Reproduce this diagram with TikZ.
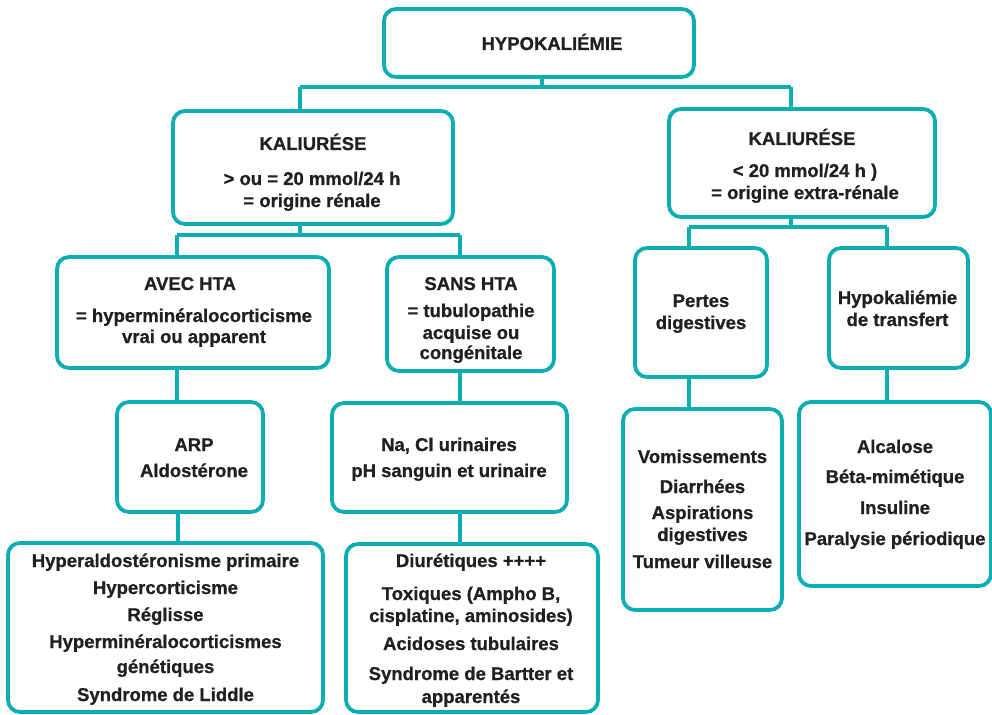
\documentclass[tikz,border=0pt]{standalone}
\usepackage{fontspec}
\setmainfont{Liberation Sans}[BoldFeatures={FakeBold=0.8}]
\begin{document}
\definecolor{teal1}{HTML}{0DAEB3}
\definecolor{ink}{HTML}{231F20}
\begin{tikzpicture}[x=1pt,y=-1pt,
  box/.style={draw=teal1, line width=3.8pt, rounded corners=12pt, fill=white,
    rectangle, inner sep=0pt, outer sep=0pt},
  link/.style={draw=teal1, line width=3.6pt},
  txt/.style={anchor=base, inner sep=0pt, text=ink,
    font=\fontsize{18.5}{22}\selectfont\bfseries}]
\useasboundingbox (0,0) rectangle (992,714);

% boxes
\node[box, minimum width=310pt, minimum height=68pt]  (hypo)   at (539,43)    {};
\node[box, minimum width=280pt, minimum height=113pt] (kr)     at (313,167.5) {};
\node[box, minimum width=266pt, minimum height=108pt] (kx)     at (802,163)   {};
\node[box, minimum width=272pt, minimum height=111pt] (avec)   at (193,312.5) {};
\node[box, minimum width=167pt, minimum height=114pt] (sans)   at (470.5,314) {};
\node[box, minimum width=132pt, minimum height=129pt] (pertes) at (701,312.5) {};
\node[box, minimum width=139pt, minimum height=120pt] (transf) at (898.5,308) {};
\node[box, minimum width=146pt, minimum height=110pt] (arp)    at (190,457)   {};
\node[box, minimum width=235pt, minimum height=109pt] (nacl)   at (449.5,457.5) {};
\node[box, minimum width=315pt, minimum height=169pt] (hald)   at (165.5,627.5) {};
\node[box, minimum width=252pt, minimum height=168pt] (diur)   at (472,628)   {};
\node[box, minimum width=159pt, minimum height=201pt] (vomi)   at (702.5,509.5) {};
\node[box, minimum width=192pt, minimum height=184pt] (alca)   at (895,494)   {};

% branching points of the tree
\coordinate (b0)  at (542,87);
\coordinate (b0l) at (300,87);
\coordinate (b0r) at (791,87);
\coordinate (b1)  at (300,235);
\coordinate (b1l) at (177,235);
\coordinate (b1r) at (460,235);
\coordinate (b2)  at (791,227);
\coordinate (b2l) at (689,227);
\coordinate (b2r) at (887,227);

% connectors
\draw[link] (hypo.south -| b0) -- (b0);
\draw[link] (b0l) -- (b0r);
\draw[link] (b0l) -- (b0l |- kr.north);
\draw[link] (b0r) -- (b0r |- kx.north);
\draw[link] (kr.south -| b1) -- (b1);
\draw[link] (b1l) -- (b1r);
\draw[link] (b1l) -- (b1l |- avec.north);
\draw[link] (b1r) -- (b1r |- sans.north);
\draw[link] (kx.south -| b2) -- (b2);
\draw[link] (b2l) -- (b2r);
\draw[link] (b2l) -- (b2l |- pertes.north);
\draw[link] (b2r) -- (b2r |- transf.north);
\draw[link] (avec.south -| b1l) -- (arp.north -| b1l);
\draw[link] ([xshift=-12pt]arp.south) -- ([xshift=-12pt]hald.north -| arp.south);
\draw[link] (sans.south -| b1r) -- (nacl.north -| b1r);
\draw[link] (nacl.south -| b1r) -- (diur.north -| b1r);
\draw[link] (pertes.south -| b2l) -- (vomi.north -| b2l);
\draw[link] (transf.south -| b2r) -- (alca.north -| b2r);

% texts
\node[txt] (t0)  at (552,50)  {HYPOKALIÉMIE};

\node[txt] (t1a) at (313,150) {KALIURÉSE};
\node[txt] (t1b) at (312,185) {> ou = 20 mmol/24 h};
\node[txt] (t1c) at (312,207) {= origine rénale};

\node[txt] (t2a) at (802,145) {KALIURÉSE};
\node[txt] (t2b) at (805,177) {< 20 mmol/24 h )};
\node[txt] (t2c) at (805,199) {= origine extra-rénale};

\node[txt] (t3a) at (190,290) {AVEC HTA};
\node[txt] (t3b) at (194,322) {= hyperminéralocorticisme};
\node[txt] (t3c) at (194,343) {vrai ou apparent};

\node[txt] (t4a) at (471,290) {SANS HTA};
\node[txt] (t4b) at (471,317) {= tubulopathie};
\node[txt] (t4c) at (471,339) {acquise ou};
\node[txt] (t4d) at (471,359) {congénitale};

\node[txt] (t5a) at (701,307) {Pertes};
\node[txt] (t5b) at (701,329) {digestives};

\node[txt] (t6a) at (897.5,304) {Hypokaliémie};
\node[txt] (t6b) at (897.5,326) {de transfert};

\node[txt] (t7a) at (194,451) {ARP};
\node[txt] (t7b) at (194,477) {Aldostérone};

\node[txt] (t8a) at (449,451) {Na, Cl urinaires};
\node[txt] (t8b) at (449,477) {pH sanguin et urinaire};

\node[txt] (t9a) at (165.5,567) {Hyperaldostéronisme primaire};
\node[txt] (t9b) at (165.5,594) {Hypercorticisme};
\node[txt] (t9c) at (165.5,621) {Réglisse};
\node[txt] (t9d) at (165.5,648) {Hyperminéralocorticismes};
\node[txt] (t9e) at (165.5,673) {génétiques};
\node[txt] (t9f) at (165.5,701) {Syndrome de Liddle};

\node[txt] (t10a) at (471,567) {Diurétiques ++++};
\node[txt] (t10b) at (471,600) {Toxiques (Ampho B,};
\node[txt] (t10c) at (471,622) {cisplatine, aminosides)};
\node[txt] (t10d) at (471,650) {Acidoses tubulaires};
\node[txt] (t10e) at (471,680) {Syndrome de Bartter et};
\node[txt] (t10f) at (471,703) {apparentés};

\node[txt] (t11a) at (702.5,463) {Vomissements};
\node[txt] (t11b) at (702.5,493) {Diarrhées};
\node[txt] (t11c) at (702.5,519) {Aspirations};
\node[txt] (t11d) at (702.5,541) {digestives};
\node[txt] (t11e) at (702.5,568) {Tumeur villeuse};

\node[txt] (t12a) at (895,453) {Alcalose};
\node[txt] (t12b) at (895,483) {Béta-mimétique};
\node[txt] (t12c) at (895,514) {Insuline};
\node[txt] (t12d) at (895,545) {Paralysie périodique};
\end{tikzpicture}
\end{document}
